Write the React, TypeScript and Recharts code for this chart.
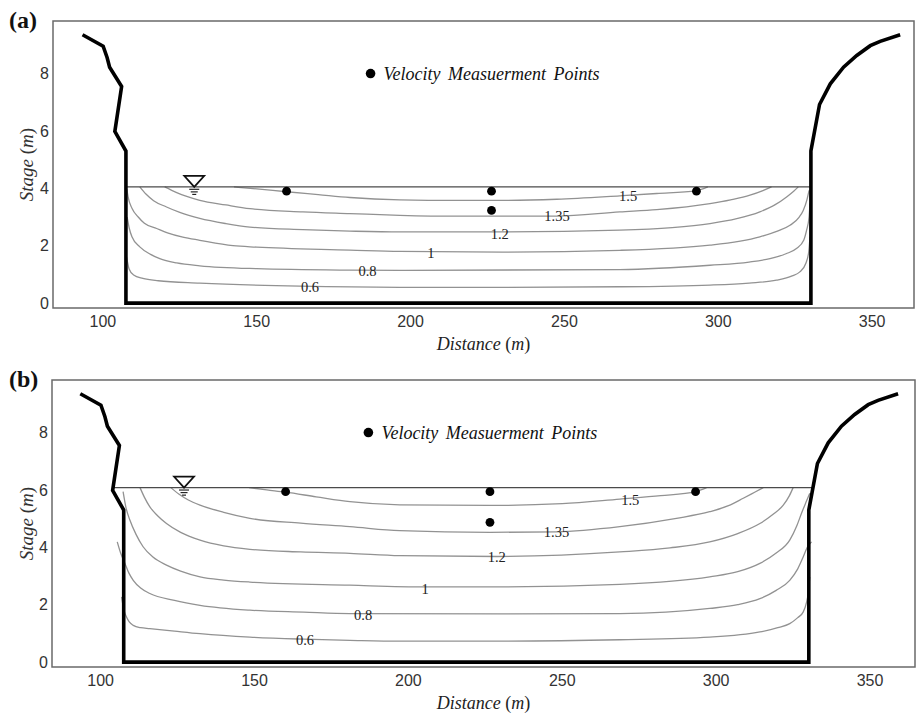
import { ComposedChart, Label, Line, ReferenceArea, Scatter, XAxis, YAxis } from "recharts";

type Pt = [number, number];

const SERIF = "'Liberation Serif', 'Times New Roman', serif";
const SANS = "'Liberation Sans', Arial, sans-serif";

const X_TICKS = [100, 150, 200, 250, 300, 350];
const Y_TICKS = [0, 2, 4, 6, 8];
const LEVELS = ["0.6", "0.8", "1", "1.2", "1.35", "1.5"];

// river bank + rectangular main channel (same survey for both stages)
const bank: Pt[] = [
  [93.4, 9.35], [100.1, 8.95], [101.4, 8.55], [102.2, 8.22], [106.1, 7.55], [103.9, 5.98], [107.5, 5.3],
  [107.5, 0], [330.1, 0], [330.1, 5.3], [332.9, 6.92], [336.4, 7.64], [340.7, 8.22], [345.0, 8.63],
  [349.4, 8.97], [352.6, 9.12], [359.1, 9.35],
];

// ---- (a) stage 4 m ----
const surfaceA: Pt[] = [[107.5, 4.05], [330.1, 4.05]];
const pointsA: Pt[] = [[159.7, 3.9], [226.3, 3.9], [226.3, 3.23], [292.9, 3.9]];
const gaugeA: Pt = [129.7, 4.05];
const a06: Pt[] = [
  [107.7, 1.61], [108.5, 1.2], [110, 0.98], [113, 0.86], [118, 0.78], [131.5, 0.7], [164, 0.59], [196.5, 0.55],
  [230, 0.55], [268, 0.57], [297.3, 0.63], [310, 0.7], [318.9, 0.8], [324, 0.95], [326.5, 1.09], [328.5, 1.4],
  [329.4, 1.8], [329.8, 2.31],
];
const a08: Pt[] = [
  [107.9, 3.0], [108.6, 2.6], [109.5, 2.3], [112, 1.96], [115.5, 1.7], [118.5, 1.55], [124, 1.4], [131.5, 1.3],
  [150, 1.2], [180, 1.15], [196.5, 1.14], [268, 1.17], [297.3, 1.32], [310, 1.43], [316.8, 1.55], [322, 1.72],
  [325.4, 1.9], [327.8, 2.2], [328.7, 2.54], [329.5, 3.0], [329.8, 3.47],
];
const a10: Pt[] = [
  [107.8, 3.97], [108.2, 3.7], [109.5, 3.3], [111.5, 3.0], [113.5, 2.78], [117.5, 2.6], [121, 2.45], [126, 2.3],
  [131.5, 2.19], [142.3, 2.0], [150, 1.95], [180.3, 1.85], [196.5, 1.8], [230, 1.78], [268, 1.84], [297.3, 2.02],
  [313.5, 2.31], [319, 2.5], [323.3, 2.71], [326.3, 3.0], [327.6, 3.23], [328.8, 3.6], [329.5, 3.93],
];
const a12: Pt[] = [
  [112, 4.05], [114, 3.8], [116.5, 3.57], [120.7, 3.35], [125, 3.16], [131.5, 2.95], [140, 2.77], [147.8, 2.65],
  [165, 2.56], [180.3, 2.51], [196.5, 2.48], [229, 2.48], [268, 2.54], [285, 2.63], [297.3, 2.77], [306, 2.94],
  [313.5, 3.18], [318.5, 3.43], [322.2, 3.7], [324.5, 3.9], [326, 4.05],
];
const a135: Pt[] = [
  [120.1, 4.05], [124, 3.85], [127.5, 3.71], [131.5, 3.58], [140, 3.42], [147.8, 3.29], [165, 3.18], [180.3, 3.12],
  [196.5, 3.06], [215, 3.03], [247.5, 3.03], [268, 3.18], [280, 3.26], [297.3, 3.47], [304, 3.6], [310.3, 3.76],
  [314.5, 3.92], [317.3, 4.05],
];
const a15: Pt[] = [
  [142.6, 4.05], [150, 3.98], [159.7, 3.88], [170, 3.78], [180.3, 3.68], [196.5, 3.6], [215, 3.58], [230, 3.58],
  [247.5, 3.62], [268, 3.74], [280, 3.82], [292.9, 3.92], [296.6, 4.05],
];
const labelsA: Pt[] = [[167.3, 0.55], [186, 1.12], [206.6, 1.76], [229, 2.42], [247.6, 3.04], [270.7, 3.72]];

// ---- (b) stage 6 m ----
const surfaceB: Pt[] = [[103.9, 6.08], [331.3, 6.08]];
const pointsB: Pt[] = [[160.1, 5.94], [226.5, 5.94], [226.5, 4.87], [293.3, 5.94]];
const gaugeB: Pt = [127.1, 6.08];
const b06: Pt[] = [
  [106.8, 2.27], [107.6, 1.8], [108.4, 1.57], [109.3, 1.4], [110.6, 1.28], [113, 1.2], [116, 1.17], [124, 1.08],
  [132.3, 0.99], [148.5, 0.87], [166, 0.8], [181, 0.76], [197.2, 0.73], [230, 0.73], [268.7, 0.78], [297.9, 0.87],
  [314.2, 1.05], [320, 1.2], [323.9, 1.34], [326.5, 1.55], [328.3, 1.75], [329.4, 2.1], [329.9, 2.39], [330.4, 2.97],
];
const b08: Pt[] = [
  [105.4, 4.19], [106.5, 3.8], [107.9, 3.44], [109.2, 3.1], [110.6, 2.85], [113, 2.58], [116, 2.39], [124, 2.15],
  [132.3, 1.98], [148.5, 1.81], [166, 1.74], [181, 1.69], [230, 1.68], [268.7, 1.69], [297.9, 1.87], [307, 2.0],
  [314.2, 2.21], [319.5, 2.5], [323.9, 2.85], [326.5, 3.25], [328.3, 3.67], [329.6, 4.0], [331.0, 4.19],
];
const b10: Pt[] = [
  [107.3, 5.94], [108.2, 5.4], [109.5, 4.95], [111.5, 4.45], [113.8, 4.02], [117, 3.66], [121.4, 3.38], [126, 3.17],
  [132.3, 2.97], [140, 2.86], [148.5, 2.79], [181, 2.68], [205.4, 2.62], [230, 2.62], [268.7, 2.71], [297.9, 2.97],
  [307, 3.15], [314.2, 3.44], [319.5, 3.8], [323.9, 4.25], [326.2, 4.75], [327.7, 5.18], [329.1, 5.55], [330.4, 5.88],
];
const b12: Pt[] = [
  [112.8, 6.08], [114.2, 5.75], [116, 5.41], [118.5, 5.1], [121.4, 4.83], [126, 4.52], [132.3, 4.25], [140, 4.05],
  [148.5, 3.93], [165, 3.84], [181, 3.79], [197.2, 3.71], [228.7, 3.68], [268.7, 3.84], [285, 3.98], [297.9, 4.19],
  [307, 4.48], [314.2, 4.83], [318.5, 5.15], [321.8, 5.47], [323.8, 5.8], [325.0, 6.08],
];
const b135: Pt[] = [
  [122.8, 6.08], [125.5, 5.85], [128.5, 5.65], [132.3, 5.47], [140, 5.22], [148.5, 5.01], [165, 4.84], [181, 4.72],
  [197.2, 4.58], [226.5, 4.52], [248.1, 4.54], [268.7, 4.72], [287.1, 5.01], [297.9, 5.24], [304, 5.45], [308.8, 5.71],
  [312.5, 5.92], [315.3, 6.08],
];
const b15: Pt[] = [
  [148.2, 6.08], [154, 6.0], [160.1, 5.92], [170, 5.76], [181, 5.59], [197.2, 5.48], [226.5, 5.46], [250, 5.52],
  [268.7, 5.68], [282, 5.8], [293.3, 5.94], [296.9, 6.08],
];
const labelsB: Pt[] = [[166.4, 0.76], [185.3, 1.63], [205.4, 2.56], [228.7, 3.65], [248.1, 4.54], [272.1, 5.65]];

const legendAt: Pt = [187, 8];
const Y_DOMAIN: [number, number] = [-0.17, 9.83];

const rows = (pts: Pt[]) => pts.map(([x, y]) => ({ x, y }));

const LevelText = (p: any) => (
  <text x={p.cx} y={p.cy} textAnchor="middle" dominantBaseline="central" fontFamily={SERIF} fontSize={14.5} fill="#222">
    {p.payload.label}
  </text>
);

const MeasureDot = (p: any) => <circle cx={p.cx} cy={p.cy} r={4.4} fill="#000" />;

// inverted triangle water-surface symbol
const Gauge = (p: any) => {
  const { cx, cy } = p;
  return (
    <g stroke="#111" fill="none">
      <polygon points={`${cx - 10},${cy - 11} ${cx + 10},${cy - 11} ${cx},${cy}`} fill="#fff" strokeWidth={1.7} />
      <line x1={cx - 5} x2={cx + 5} y1={cy + 2.4} y2={cy + 2.4} strokeWidth={1.1} />
      <line x1={cx - 3.5} x2={cx + 3.5} y1={cy + 5} y2={cy + 5} strokeWidth={1.1} />
      <line x1={cx - 2} x2={cx + 2} y1={cy + 7.5} y2={cy + 7.5} strokeWidth={1.1} />
    </g>
  );
};

const LegendMark = (p: any) => (
  <g>
    <circle cx={p.cx} cy={p.cy} r={4.8} fill="#000" />
    <text x={p.cx + 13} y={p.cy + 6} fontFamily={SERIF} fontStyle="italic" fontSize={18} fill="#111" wordSpacing={3}>
      Velocity Measuerment Points
    </text>
  </g>
);

const StageTitle = (props: any) => {
  const vb = props.viewBox ?? { x: 0, y: 21, width: 53, height: 287 };
  const cx = 33;
  const cy = vb.y + vb.height / 2;
  return (
    <text x={cx} y={cy} transform={`rotate(-90 ${cx} ${cy})`} textAnchor="middle" fontFamily={SERIF} fontSize={19} fill="#333">
      <tspan fontStyle="italic">Stage</tspan> (<tspan fontStyle="italic">m</tspan>)
    </text>
  );
};

const DistanceTitle = (props: any) => {
  const vb = props.viewBox ?? { x: 53, y: 308, width: 861, height: 50 };
  return (
    <text x={vb.x + vb.width / 2} y={vb.y + 42} textAnchor="middle" fontFamily={SERIF} fontSize={18} fill="#222">
      <tspan fontStyle="italic">Distance</tspan> (<tspan fontStyle="italic">m</tspan>)
    </text>
  );
};

type PanelProps = {
  tag: string;
  top: number;
  left: number;
  right: number;
  xDomain: [number, number];
  contours: Pt[][];
  surface: Pt[];
  points: Pt[];
  gauge: Pt;
  labels: Pt[];
};

function Panel({ tag, top, left, right, xDomain, contours, surface, points, gauge, labels }: PanelProps) {
  const labelRows = labels.map(([x, y], i) => ({ x, y, label: LEVELS[i] }));
  return (
    <div style={{ position: "absolute", left: 0, top, width: 917, height: 358 }}>
      <div style={{ position: "absolute", left: 9, top: 8, fontFamily: SERIF, fontWeight: "bold", fontSize: 24, lineHeight: "24px", color: "#111" }}>
        {tag}
      </div>
      <ComposedChart width={917} height={358} margin={{ top: 21, right: 917 - right, bottom: 0, left: 0 }}>
        <XAxis
          type="number"
          dataKey="x"
          domain={xDomain}
          ticks={X_TICKS}
          allowDataOverflow
          axisLine={false}
          tickLine={false}
          tickSize={0}
          tickMargin={8}
          height={50}
          tick={{ fill: "#333", fontSize: 16, fontFamily: SANS }}
        >
          <Label content={DistanceTitle} />
        </XAxis>
        <YAxis
          type="number"
          dataKey="y"
          domain={Y_DOMAIN}
          ticks={Y_TICKS}
          allowDataOverflow
          width={left}
          axisLine={false}
          tickLine={false}
          tickSize={0}
          tickMargin={4}
          tick={{ fill: "#333", fontSize: 16, fontFamily: SANS }}
        >
          <Label content={StageTitle} />
        </YAxis>
        <ReferenceArea x1={xDomain[0]} x2={xDomain[1]} y1={Y_DOMAIN[0]} y2={Y_DOMAIN[1]} fill="none" stroke="#6a6a6a" strokeWidth={1.5} />
        {contours.map((c, i) => (
          <Line
            key={LEVELS[i]}
            data={rows(c)}
            dataKey="y"
            type="monotone"
            stroke="#929292"
            strokeWidth={1.3}
            dot={false}
            activeDot={false}
            isAnimationActive={false}
          />
        ))}
        <Line data={rows(surface)} dataKey="y" type="linear" stroke="#4a4a4a" strokeWidth={1.3} dot={false} activeDot={false} isAnimationActive={false} />
        <Line data={rows(bank)} dataKey="y" type="linear" stroke="#000" strokeWidth={3.6} dot={false} activeDot={false} isAnimationActive={false} />
        <Scatter data={labelRows} dataKey="y" shape={LevelText} isAnimationActive={false} />
        <Scatter data={rows(points)} dataKey="y" shape={MeasureDot} isAnimationActive={false} />
        <Scatter data={rows([gauge])} dataKey="y" shape={Gauge} isAnimationActive={false} />
        <Scatter data={rows([legendAt])} dataKey="y" shape={LegendMark} isAnimationActive={false} />
      </ComposedChart>
    </div>
  );
}

export default function App() {
  return (
    <div style={{ position: "absolute", left: 0, top: 0, width: 917, height: 716, background: "#fff", overflow: "hidden" }}>
      <Panel
        tag="(a)"
        top={0}
        left={53}
        right={914}
        xDomain={[83.8, 363.6]}
        contours={[a06, a08, a10, a12, a135, a15]}
        surface={surfaceA}
        points={pointsA}
        gauge={gaugeA}
        labels={labelsA}
      />
      <Panel
        tag="(b)"
        top={359}
        left={52}
        right={915}
        xDomain={[84.2, 364.6]}
        contours={[b06, b08, b10, b12, b135, b15]}
        surface={surfaceB}
        points={pointsB}
        gauge={gaugeB}
        labels={labelsB}
      />
    </div>
  );
}
